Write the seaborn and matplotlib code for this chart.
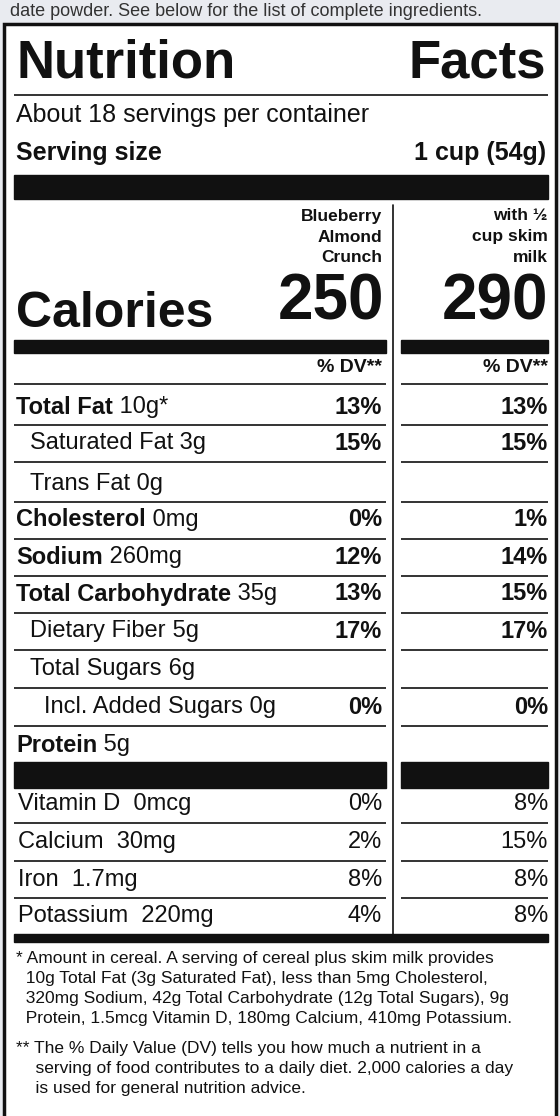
import matplotlib
matplotlib.use("Agg")
import matplotlib.pyplot as plt
import seaborn as sns

sns.set_theme(style="white")
plt.rcParams['font.family'] = ['Liberation Sans Narrow', 'Liberation Sans', 'DejaVu Sans']

title_left = "Nutrition"
title_right = "Facts"
servings = "About 18 servings per container"
serving_label = "Serving size"
serving_value = "1 cup (54g)"
col1_head = ["Blueberry", "Almond", "Crunch"]
col2_head = ["with ½", "cup skim", "milk"]
calories = [250, 290]

nutrients = ["Total Fat", "Saturated Fat", "Trans Fat", "Cholesterol", "Sodium",
             "Total Carbohydrate", "Dietary Fiber", "Total Sugars", "Incl. Added Sugars", "Protein"]
amounts = ["10g*", "3g", "0g", "0mg", "260mg", "35g", "5g", "6g", "0g", "5g"]
bold_row = [True, False, False, True, True, True, False, False, False, True]
indent = [0, 1, 1, 0, 0, 0, 1, 1, 2, 0]
dv_cereal = ["13%", "15%", "", "0%", "12%", "13%", "17%", "", "0%", ""]
dv_milk = ["13%", "15%", "", "1%", "14%", "15%", "17%", "", "0%", ""]

vitamins = ["Vitamin D", "Calcium", "Iron", "Potassium"]
vit_amounts = ["0mcg", "30mg", "1.7mg", "220mg"]
vit_cereal = ["0%", "2%", "8%", "4%"]
vit_milk = ["8%", "15%", "8%", "8%"]

foot1 = ["* Amount in cereal. A serving of cereal plus skim milk provides",
         "  10g Total Fat (3g Saturated Fat), less than 5mg Cholesterol,",
         "  320mg Sodium, 42g Total Carbohydrate (12g Total Sugars), 9g",
         "  Protein, 1.5mcg Vitamin D, 180mg Calcium, 410mg Potassium."]
foot2 = ["** The % Daily Value (DV) tells you how much a nutrient in a",
         "    serving of food contributes to a daily diet. 2,000 calories a day",
         "    is used for general nutrition advice."]

fig = plt.figure(figsize=(5.6, 11.16), dpi=100)
fig.patch.set_facecolor("#e9ebf0")
ax = fig.add_axes([0, 0, 1, 1])
ax.set_xlim(0, 560); ax.set_ylim(1116, 0); ax.axis("off")
ax.add_patch(plt.Rectangle((4, 24), 552, 1100, facecolor="white", edgecolor="#111", lw=2.5))
ax.text(10, 11, "date powder. See below for the list of complete ingredients.", fontsize=13,
        color="#333", va="center")

k = "#111"
def hline(y, x0, x1, lw):
    ax.plot([x0, x1], [y, y], color=k, lw=lw, solid_capstyle="butt")

ax.text(16, 64, title_left, fontsize=38, fontweight="bold", va="center", color=k)
ax.text(546, 64, title_right, fontsize=38, fontweight="bold", va="center", ha="right", color=k)
hline(95, 14, 548, 1.2)
ax.text(16, 115, servings, fontsize=18, va="center", color=k)
ax.text(16, 153, serving_label, fontsize=18, fontweight="bold", va="center", color=k)
ax.text(546, 153, serving_value, fontsize=18, fontweight="bold", va="center", ha="right", color=k)
ax.add_patch(plt.Rectangle((14, 175), 534, 24, color=k))
ax.plot([393, 393], [205, 940], color=k, lw=1.2)
for i, (a, b) in enumerate(zip(col1_head, col2_head)):
    ax.text(382, 216 + i * 21, a, fontsize=12.5, fontweight="bold", ha="right", va="center", color=k)
    ax.text(548, 216 + i * 21, b, fontsize=12.5, fontweight="bold", ha="right", va="center", color=k)
ax.text(16, 314, "Calories", fontsize=36, fontweight="bold", va="center", color=k)
ax.text(384, 302, str(calories[0]), fontsize=46, fontweight="bold", va="center", ha="right", color=k)
ax.text(548, 302, str(calories[1]), fontsize=46, fontweight="bold", va="center", ha="right", color=k)
ax.add_patch(plt.Rectangle((14, 340), 372, 13, color=k))
ax.add_patch(plt.Rectangle((401, 340), 147, 13, color=k))
ax.text(382, 368, "% DV**", fontsize=14, fontweight="bold", ha="right", va="center", color=k)
ax.text(548, 368, "% DV**", fontsize=14, fontweight="bold", ha="right", va="center", color=k)

ys = [407, 443, 484, 520, 557, 594, 631, 669, 707, 745]
lines_y = [384, 425, 462, 502, 539, 576, 613, 650, 688, 726]
for ly in lines_y:
    hline(ly, 14, 386, 1.2); hline(ly, 401, 548, 1.2)
for i, y in enumerate(ys):
    x = 16 + indent[i] * 14
    w = "bold" if bold_row[i] else "normal"
    t = ax.text(x, y, nutrients[i], fontsize=17, fontweight=w, va="center", color=k)
    ax.annotate(" " + amounts[i], xycoords=t, xy=(1, 0.5), va="center", fontsize=17, color=k)
    ax.text(382, y, dv_cereal[i], fontsize=17, fontweight="bold", ha="right", va="center", color=k)
    ax.text(548, y, dv_milk[i], fontsize=17, fontweight="bold", ha="right", va="center", color=k)
ax.add_patch(plt.Rectangle((14, 762), 372, 26, color=k))
ax.add_patch(plt.Rectangle((401, 762), 147, 26, color=k))
vys = [804, 842, 880, 916]
for ly in [823, 861, 898]:
    hline(ly, 14, 386, 1.2); hline(ly, 401, 548, 1.2)
for i, y in enumerate(vys):
    ax.text(18, y, vitamins[i] + "  " + vit_amounts[i], fontsize=17, va="center", color=k)
    ax.text(382, y, vit_cereal[i], fontsize=17, ha="right", va="center", color=k)
    ax.text(548, y, vit_milk[i], fontsize=17, ha="right", va="center", color=k)
ax.add_patch(plt.Rectangle((14, 934), 534, 8, color=k))
for i, s in enumerate(foot1):
    ax.text(16, 958 + i * 20, s, fontsize=12.5, va="center", color=k)
for i, s in enumerate(foot2):
    ax.text(16, 1048 + i * 20, s, fontsize=12.5, va="center", color=k)
fig.savefig("out.png", dpi=100)
